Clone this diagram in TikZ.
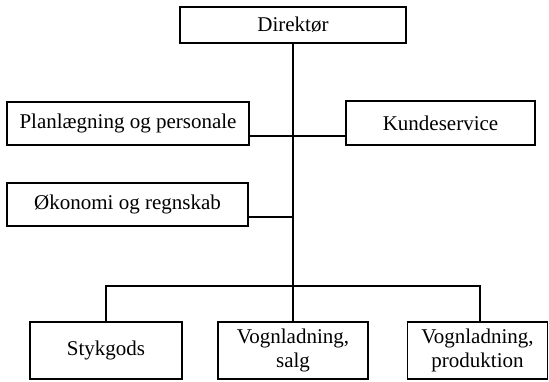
\documentclass[tikz,border=0pt]{standalone}
\usepackage{fontspec}
\setmainfont{Liberation Serif}
\begin{document}
\begin{tikzpicture}[x=1pt,y=-1pt,
  box/.style={draw,line width=1.7pt,rectangle,inner sep=0pt,align=center,
    font=\fontsize{21}{24}\selectfont},
  conn/.style={line width=1.6pt}]
\useasboundingbox (0,0) rectangle (549,382);
\node[box,minimum width=226pt,minimum height=36pt] (dir) at (293,25) {Direktør};
\node[box,minimum width=242pt,minimum height=43pt] (plan) at (128,123.5) {Planlægning og personale};
\node[box,minimum width=189pt,minimum height=44pt] (kunde) at (440.5,123) {Kundeservice};
\node[box,minimum width=241pt,minimum height=43pt] (oko) at (127.5,204.5) {Økonomi og regnskab};
\node[box,minimum width=152pt,minimum height=57pt] (styk) at (106,350.5) {Stykgods};
\node[box,minimum width=150pt,minimum height=57pt] (salg) at (293,350.5) {Vognladning,\\salg};
\node[box,minimum width=140pt,minimum height=57pt] (prod) at (477.5,350.5) {Vognladning,\\produktion};
\coordinate (pj) at (293,136);
\coordinate (oj) at (293,217);
\coordinate (pd) at (480,286);
\draw[conn] (dir.south) -- (salg.north);
\draw[conn] (pj -| plan.east) -- (pj -| kunde.west);
\draw[conn] (oj -| oko.east) -- (oj);
\draw[conn] (styk.north) |- (pd) -- (pd |- prod.north);
\end{tikzpicture}
\end{document}
